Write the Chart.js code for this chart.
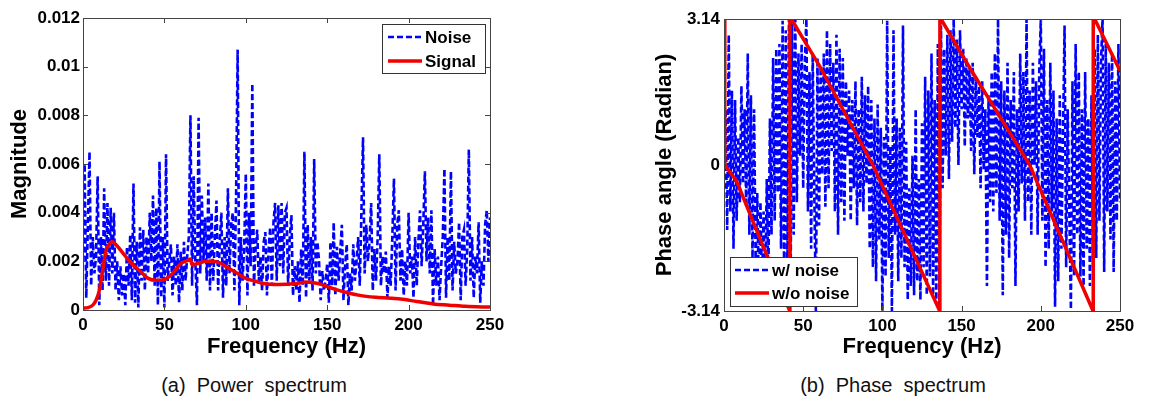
<!DOCTYPE html>
<html>
<head>
<meta charset="utf-8">
<script src="https://cdn.jsdelivr.net/npm/chart.js@4.4.0/dist/chart.umd.min.js"></script>
<style>
  html, body { margin: 0; padding: 0; background: #fff; }
  #wrap { position: relative; width: 1160px; height: 399px; overflow: hidden; }
  canvas { position: absolute; top: 0; }
  .cap { position: absolute; top: 374px; font: 20px "Liberation Sans", Arial, sans-serif; color: #111; white-space: pre; transform: translateX(-50%); }
</style>
</head>
<body>
<div id="wrap">
  <canvas id="power" width="580" height="360" style="left:0"></canvas>
  <canvas id="phase" width="580" height="360" style="left:580px"></canvas>
  <div class="cap" style="left:254px">(a)  Power  spectrum</div>
  <div class="cap" style="left:893px">(b)  Phase  spectrum</div>
</div>
<script>
// === データ（1 Hz 刻み, 0〜250 Hz） ===
const FREQ_STEP = 1;

const noiseMag = [
  0.0020, 0.0060, 0.0005, 0.0035, 0.0065, 0.0010, 0.0030, 0.0015, 0.0022, 0.0055,
  0.0002, 0.0030, 0.0008, 0.0050, 0.0012, 0.0044, 0.0010, 0.0042, 0.0015, 0.0040,
  0.0008, 0.0020, 0.0004, 0.0018, 0.0006, 0.0015, 0.0002, 0.0026, 0.0010, 0.0031,
  0.0004, 0.0052, 0.0003, 0.0028, 0.0001, 0.0034, 0.0012, 0.0033, 0.0008, 0.0030,
  0.0015, 0.0040, 0.0020, 0.0047, 0.0010, 0.0042, 0.0002, 0.0061, 0.0005, 0.0030,
  0.0001, 0.0064, 0.0012, 0.0020, 0.0027, 0.0006, 0.0022, 0.0010, 0.0027, 0.0003,
  0.0024, 0.0008, 0.0028, 0.0012, 0.0022, 0.0030, 0.0080, 0.0010, 0.0055, 0.0020,
  0.0002, 0.0079, 0.0015, 0.0047, 0.0020, 0.0038, 0.0012, 0.0052, 0.0008, 0.0040,
  0.0012, 0.0030, 0.0045, 0.0008, 0.0028, 0.0040, 0.0005, 0.0030, 0.0010, 0.0050,
  0.0015, 0.0035, 0.0040, 0.0008, 0.0045, 0.0107, 0.0002, 0.0030, 0.0012, 0.0026,
  0.0056, 0.0006, 0.0040, 0.0018, 0.0093, 0.0010, 0.0025, 0.0033, 0.0012, 0.0022,
  0.0008, 0.0028, 0.0032, 0.0006, 0.0025, 0.0034, 0.0010, 0.0036, 0.0044, 0.0012,
  0.0043, 0.0018, 0.0044, 0.0015, 0.0040, 0.0042, 0.0010, 0.0030, 0.0039, 0.0006,
  0.0018, 0.0008, 0.0020, 0.0003, 0.0025, 0.0010, 0.0065, 0.0005, 0.0035, 0.0012,
  0.0030, 0.0008, 0.0062, 0.0015, 0.0028, 0.0020, 0.0004, 0.0016, 0.0008, 0.0012,
  0.0019, 0.0003, 0.0028, 0.0010, 0.0036, 0.0006, 0.0026, 0.0012, 0.0024, 0.0035,
  0.0004, 0.0018, 0.0027, 0.0002, 0.0015, 0.0008, 0.0027, 0.0012, 0.0020, 0.0030,
  0.0010, 0.0040, 0.0071, 0.0015, 0.0035, 0.0020, 0.0028, 0.0044, 0.0008, 0.0025,
  0.0012, 0.0030, 0.0064, 0.0010, 0.0022, 0.0015, 0.0024, 0.0005, 0.0018, 0.0010,
  0.0030, 0.0054, 0.0008, 0.0035, 0.0041, 0.0012, 0.0025, 0.0006, 0.0020, 0.0010,
  0.0040, 0.0015, 0.0022, 0.0005, 0.0030, 0.0010, 0.0028, 0.0041, 0.0018, 0.0035,
  0.0057, 0.0020, 0.0038, 0.0015, 0.0041, 0.0002, 0.0025, 0.0010, 0.0022, 0.0004,
  0.0018, 0.0030, 0.0058, 0.0005, 0.0030, 0.0012, 0.0057, 0.0008, 0.0028, 0.0015,
  0.0020, 0.0036, 0.0004, 0.0030, 0.0033, 0.0010, 0.0025, 0.0066, 0.0012, 0.0030,
  0.0005, 0.0022, 0.0015, 0.0036, 0.0003, 0.0020, 0.0010, 0.0035, 0.0041, 0.0020,
  0.0038
];

const signalFreq = [0, 3, 6, 8, 10, 12, 14, 16, 18, 20, 25, 30, 35, 40, 45, 50, 55, 60, 65, 66, 67, 70, 76, 80, 85, 90, 95, 100, 105, 110, 120, 130, 137, 145, 150, 155, 160, 170, 180, 195, 205, 215, 225, 235, 250];
const signalMag  = [0.00007, 0.0001, 0.0002, 0.0004, 0.0008, 0.0016, 0.0024, 0.0027, 0.0028, 0.0027, 0.0023, 0.0019, 0.0016, 0.0013, 0.00122, 0.00125, 0.0015, 0.0019, 0.00206, 0.0021, 0.00185, 0.0019, 0.0020, 0.0020, 0.0019, 0.0017, 0.0015, 0.0013, 0.0012, 0.0011, 0.00105, 0.00108, 0.00115, 0.00108, 0.00096, 0.00085, 0.00075, 0.0006, 0.00052, 0.00045, 0.00035, 0.00025, 0.0002, 0.00015, 0.00012];

const phaseNoise = [
  -0.5, 1.2, -1.4, 2.8, -1.0, 1.6, -1.8, 1.4, -1.2, 0.6,
  -0.8, 1.7, -0.4, 1.2, -0.9, 2.4, -1.5, 1.5, -2.0, 1.2,
  -2.2, -0.6, -2.8, -0.8, -2.6, -1.0, -2.9, -0.3, -2.5, 1.0,
  -1.5, 2.3, -1.2, 2.5, -0.6, 2.6, -1.8, 3.1, -2.7, 2.9,
  -2.4, 3.14, -3.0, 3.1, -1.5, 3.14, -0.8, 2.4, 0.2, 2.6,
  -0.5, 2.2, 3.14, -1.0, 2.0, -1.8, 2.4, -0.6, -3.14, 2.3,
  -1.3, 2.1, -0.2, 2.4, -0.9, 2.9, -0.5, 2.6, 0.3, 2.2,
  -1.0, 2.8, -1.5, 2.5, -0.8, 2.3, -1.2, 1.8, 0.2, 1.6,
  -1.2, 1.4, -0.5, 1.8, -1.3, 1.2, -0.8, 1.9, -1.0, 1.5,
  -0.4, 1.7, -1.8, 1.4, -2.2, 1.0, -2.5, 1.3, -1.6, 0.8,
  -3.14, 0.6, -2.4, 3.1, -2.0, 0.4, -3.14, 2.9, -1.5, 1.0,
  -2.5, 0.8, -2.0, 3.0, -2.2, 0.5, -2.9, -0.5, -2.6, 0.2,
  -2.8, 1.2, -2.5, -0.3, -2.9, 0.9, -2.2, 1.9, -2.8, 1.6,
  -2.4, 2.4, -2.8, 1.4, -3.0, 2.6, -3.1, 3.0, -0.5, 2.5,
  0.2, 2.8, -0.3, 2.9, 0.5, 3.14, 0.8, 2.7, 0.0, 2.9,
  1.2, 2.5, 0.4, 2.3, 1.0, 2.1, 0.3, 2.2, -0.2, 1.9,
  0.6, 1.7, -0.5, 1.8, -0.1, 1.2, -2.6, 1.5, -0.8, 2.0,
  -1.0, 2.4, -0.6, 3.14, -1.2, 1.8, -2.8, 1.6, -1.5, 2.2,
  -2.0, 1.4, -0.5, 2.0, -2.6, 1.2, -1.0, 2.4, -0.4, 2.0,
  -1.2, 3.14, -0.8, 1.6, -1.5, 2.2, 0.0, 1.8, -1.5, 2.0,
  3.14, -1.2, 2.5, -2.2, 1.4, -1.8, 2.2, -1.0, 1.6, -3.05,
  1.0, -2.5, 1.5, -1.8, 0.6, 3.0, -2.2, 1.2, -1.0, -3.1,
  1.8, -2.4, 2.6, -1.5, 2.0, -2.4, 1.2, -2.6, 2.0, -1.8,
  1.0, -2.6, 1.5, -2.2, 2.5, -2.0, 2.8, -1.2, 2.2, 3.14,
  -2.3, 2.6, -1.0, 2.2, -1.6, 2.4, -2.3, 1.8, -1.2, 2.6,
  -0.8
];

const phaseFreq  = [0, 0.5, 8, 27.5, 41.5, 41.6, 42.5, 60, 94, 136.2, 136.3, 137, 155, 193, 233, 233.1, 234, 250];
const phaseClean = [3.14, 0, -0.35, -1.98, -3.14, 3.14, 3.14, 2.15, 0, -3.14, 3.14, 3.14, 2.1, 0, -3.14, 3.14, 3.14, 2.03];

// === 共通 ===
const FONT = '"Liberation Sans", Arial, sans-serif';
const BLUE = "#0000ff";
const RED = "#f00000";
const toXY = (xs, ys) => ys.map((y, i) => ({ x: xs[i], y }));
const stepXY = (ys) => ys.map((y, i) => ({ x: i * FREQ_STEP, y }));

// 枠と内向きの目盛り（MATLAB風）
const framePlugin = {
  id: "frame",
  afterDraw(chart) {
    const { ctx, chartArea: a, scales: { x, y } } = chart;
    ctx.save();
    ctx.strokeStyle = "#444";
    ctx.lineWidth = 1;
    ctx.strokeRect(a.left + 0.5, a.top + 0.5, a.right - a.left, a.bottom - a.top);
    ctx.beginPath();
    x.ticks.forEach(t => {
      const px = Math.round(x.getPixelForValue(t.value)) + 0.5;
      ctx.moveTo(px, a.bottom); ctx.lineTo(px, a.bottom - 5);
      ctx.moveTo(px, a.top); ctx.lineTo(px, a.top + 5);
    });
    y.ticks.forEach(t => {
      const py = Math.round(y.getPixelForValue(t.value)) + 0.5;
      ctx.moveTo(a.left, py); ctx.lineTo(a.left + 5, py);
      ctx.moveTo(a.right, py); ctx.lineTo(a.right - 5, py);
    });
    ctx.stroke();
    ctx.restore();
  }
};

// 図の中の凡例ボックス
const boxLegend = {
  id: "boxLegend",
  afterDraw(chart, args, o) {
    if (!o || !o.items) return;
    const ctx = chart.ctx;
    ctx.save();
    ctx.fillStyle = "#fff";
    ctx.fillRect(o.x, o.y, o.w, o.h);
    ctx.strokeStyle = "#333";
    ctx.lineWidth = 1;
    ctx.strokeRect(o.x + 0.5, o.y + 0.5, o.w, o.h);
    o.items.forEach((it, i) => {
      const ly = o.y + o.rowTop + i * o.rowGap;
      ctx.beginPath();
      ctx.strokeStyle = it.color;
      ctx.lineWidth = it.width;
      ctx.setLineDash(it.dash || []);
      ctx.moveTo(o.x + o.lineX, ly);
      ctx.lineTo(o.x + o.lineX + o.lineW, ly);
      ctx.stroke();
      ctx.setLineDash([]);
      ctx.fillStyle = "#000";
      ctx.font = "bold 17px " + FONT;
      ctx.textBaseline = "middle";
      ctx.fillText(it.label, o.x + o.lineX + o.lineW + 3, ly + 1);
    });
    ctx.restore();
  }
};

function xAxis(h) {
  return {
    type: "linear", min: 0, max: 250,
    ticks: { stepSize: 50, color: "#000", padding: 5, font: { family: FONT, size: 17, weight: "bold" } },
    grid: { display: false, drawTicks: false },
    border: { display: false },
    title: { display: true, text: "Frequency (Hz)", color: "#000", padding: { top: 0, bottom: 0 }, font: { family: FONT, size: 22, weight: "bold" } },
    afterFit(s) { s.height = h; }
  };
}

// === (a) Power spectrum ===
new Chart(document.getElementById("power"), {
  type: "line",
  data: {
    datasets: [
      { label: "Signal", data: toXY(signalFreq, signalMag), borderColor: RED, borderWidth: 3.5, pointRadius: 0, tension: 0.4, cubicInterpolationMode: "monotone" },
      { label: "Noise", data: stepXY(noiseMag), borderColor: BLUE, borderWidth: 2.6, borderDash: [6, 3], pointRadius: 0, tension: 0 }
    ]
  },
  options: {
    responsive: false, animation: false, devicePixelRatio: 1,
    layout: { padding: { top: 18, right: 90, left: 0, bottom: 0 } },
    plugins: {
      legend: { display: false }, tooltip: { enabled: false },
      boxLegend: {
        x: 382, y: 24, w: 103, h: 49, rowTop: 13, rowGap: 24, lineX: 6, lineW: 34,
        items: [
          { label: "Noise", color: BLUE, width: 2.6, dash: [6, 3] },
          { label: "Signal", color: RED, width: 3.5 }
        ]
      }
    },
    scales: {
      x: xAxis(50),
      y: {
        min: 0, max: 0.012,
        ticks: { stepSize: 0.002, color: "#000", padding: 3, font: { family: FONT, size: 17, weight: "bold" },
                 callback: v => String(+v.toFixed(3)) },
        grid: { display: false, drawTicks: false },
        border: { display: false },
        title: { display: true, text: "Magnitude", color: "#000", padding: { top: 7, bottom: 0 }, font: { family: FONT, size: 22, weight: "bold" } },
        afterFit(s) { s.width = 83; }
      }
    }
  },
  plugins: [framePlugin, boxLegend]
});

// === (b) Phase spectrum ===
new Chart(document.getElementById("phase"), {
  type: "line",
  data: {
    datasets: [
      { label: "w/o noise", data: toXY(phaseFreq, phaseClean), borderColor: RED, borderWidth: 3.5, pointRadius: 0, tension: 0 },
      { label: "w/ noise", data: stepXY(phaseNoise), borderColor: BLUE, borderWidth: 2.6, borderDash: [6, 3], pointRadius: 0, tension: 0 }
    ]
  },
  options: {
    responsive: false, animation: false, devicePixelRatio: 1,
    layout: { padding: { top: 19, right: 40, left: 0, bottom: 0 } },
    plugins: {
      legend: { display: false }, tooltip: { enabled: false },
      boxLegend: {
        x: 150, y: 257, w: 127, h: 49, rowTop: 13, rowGap: 23, lineX: 5, lineW: 34,
        items: [
          { label: "w/ noise", color: BLUE, width: 2.6, dash: [6, 3] },
          { label: "w/o noise", color: RED, width: 3.5 }
        ]
      }
    },
    scales: {
      x: xAxis(49),
      y: {
        min: -3.14, max: 3.14,
        afterBuildTicks(s) { s.ticks = [{ value: -3.14 }, { value: 0 }, { value: 3.14 }]; },
        ticks: { color: "#000", padding: 4, font: { family: FONT, size: 17, weight: "bold" },
                 callback: v => String(v) },
        grid: { display: false, drawTicks: false },
        border: { display: false },
        title: { display: true, text: "Phase angle (Radian)", color: "#000", padding: { top: 72, bottom: 0 }, font: { family: FONT, size: 22, weight: "bold" } },
        afterFit(s) { s.width = 144; }
      }
    }
  },
  plugins: [framePlugin, boxLegend]
});
</script>
</body>
</html>
